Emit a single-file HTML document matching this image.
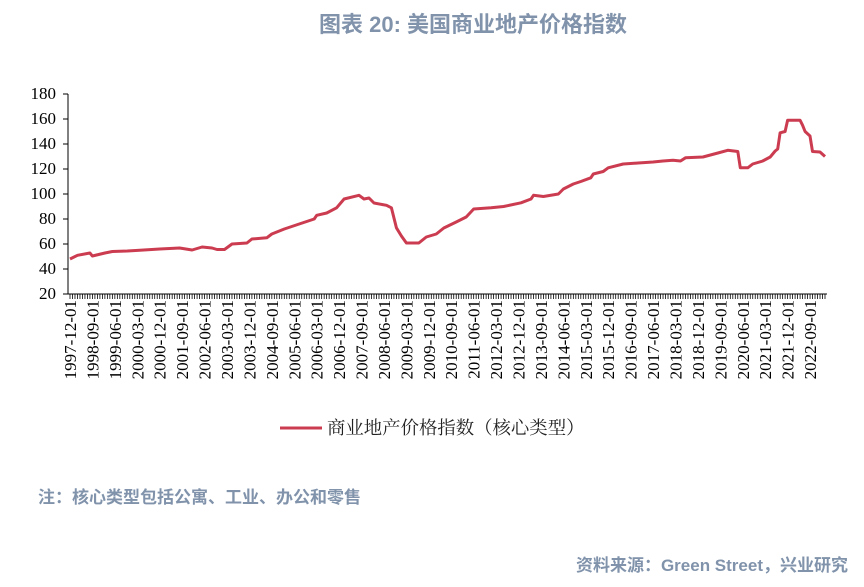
<!DOCTYPE html>
<html><head><meta charset="utf-8">
<style>
body{margin:0;background:#fff;width:864px;height:582px;overflow:hidden;font-family:"Liberation Sans","Noto Sans CJK SC",sans-serif}
</style></head>
<body>
<svg id="chart" width="864" height="582" xmlns="http://www.w3.org/2000/svg">
<text x="473" y="32" text-anchor="middle" font-size="22" font-weight="bold" fill="#8093ab" font-family="Liberation Sans, Noto Sans CJK SC, sans-serif">图表 20: 美国商业地产价格指数</text>
<g id="yaxis"></g><g id="xaxis"></g><g id="series"></g>
<g>
<line x1="280" y1="428" x2="322" y2="428" stroke="#cc3c50" stroke-width="3"/>
<text x="327" y="434" font-size="18.4" fill="#222" font-family="Liberation Serif, Noto Serif CJK SC, serif">商业地产价格指数（核心类型）</text>
</g>
<text x="38" y="503" font-size="17" font-weight="bold" fill="#8093ab">注：核心类型包括公寓、工业、办公和零售</text>
<text x="848" y="571" text-anchor="end" font-size="17" font-weight="bold" fill="#8093ab">资料来源：Green Street，兴业研究</text>
</svg>
<script>
const monthIdx=[0,3,8,9,14,17,23,28,36,44,49,53,57,59,62,65,71,73,79,81,86,92,98,99,103,107,110,116,118,120,122,127,129,131,133,135,140,143,147,150,155,159,162,169,174,181,185,186,190,196,198,202,205,209,210,214,216,222,228,234,238,242,245,247,254,260,264,268,269,272,274,278,281,283,284,285,287,288,293,294,295,297,298,301,303];
const values=[48,51,52.8,50.4,52.8,54,54.4,55,56,56.8,55.2,57.6,56.8,55.6,55.6,60,60.8,64,65,68,72,76,80,83,84.8,89,96,99,96,96.8,92.8,91,89,73,66.4,60.8,60.8,65.6,68,72.8,77.6,81.6,88,89,90,93,96,99,98,100,104,108,110,113,116,118,121,124,124.8,125.6,126.4,127,126.4,129,129.6,132.8,135,134,121,121,124,126.4,129.6,134.4,136,149,150,159,159,155,150,146.4,134,133.6,130];
const yTicks=[20,40,60,80,100,120,140,160,180];
const startYear=1997,startMonth=12,totalMonths=303,labelStep=9;
const NS="http://www.w3.org/2000/svg";
const X0=70,X1=825,Y0=294,Y1=94;
const xs=m=>X0+(X1-X0)*m/totalMonths;
const ys=v=>Y0-(v-20)/(180-20)*(Y0-Y1);
function mk(t,a,p){const e=document.createElementNS(NS,t);for(const k in a)e.setAttribute(k,a[k]);p.appendChild(e);return e;}
const ya=document.getElementById('yaxis'),xa=document.getElementById('xaxis'),sr=document.getElementById('series');
mk('line',{x1:68,y1:Y1,x2:68,y2:Y0,stroke:'#000','stroke-width':1},ya);
yTicks.forEach(v=>{
 mk('line',{x1:63,y1:ys(v),x2:68,y2:ys(v),stroke:'#000'},ya);
 const t=mk('text',{x:56,y:ys(v)+5,'text-anchor':'end','font-size':17,'font-family':'Liberation Serif, serif',fill:'#000'},ya);
 t.textContent=v;
 
 
});
mk('line',{x1:68,y1:Y0,x2:827,y2:Y0,stroke:'#000'},xa);
for(let m=0;m<=totalMonths;m++){mk('line',{x1:xs(m),y1:Y0,x2:xs(m),y2:Y0+5,stroke:'#000','stroke-width':0.8},xa);}
for(let m=0;m<=totalMonths;m+=labelStep){
 const mm=startMonth-1+m,yr=startYear+Math.floor(mm/12),mo=mm%12+1;
 const x=xs(m)+6;
 const t=mk('text',{x:0,y:0,transform:`translate(${x},300) rotate(-90)`,'text-anchor':'end','font-size':17,'font-family':'Liberation Serif, serif',fill:'#000'},xa);
 t.textContent=`${yr}-${String(mo).padStart(2,'0')}-01`;
 
 
}
const d=monthIdx.map((m,i)=>(i?'L':'M')+xs(m).toFixed(1)+','+ys(values[i]).toFixed(1)).join('');
const p=mk('path',{d:d,fill:'none',stroke:'#cc3c50','stroke-width':3,'stroke-linejoin':'round'},sr);


</script>
</body></html>
